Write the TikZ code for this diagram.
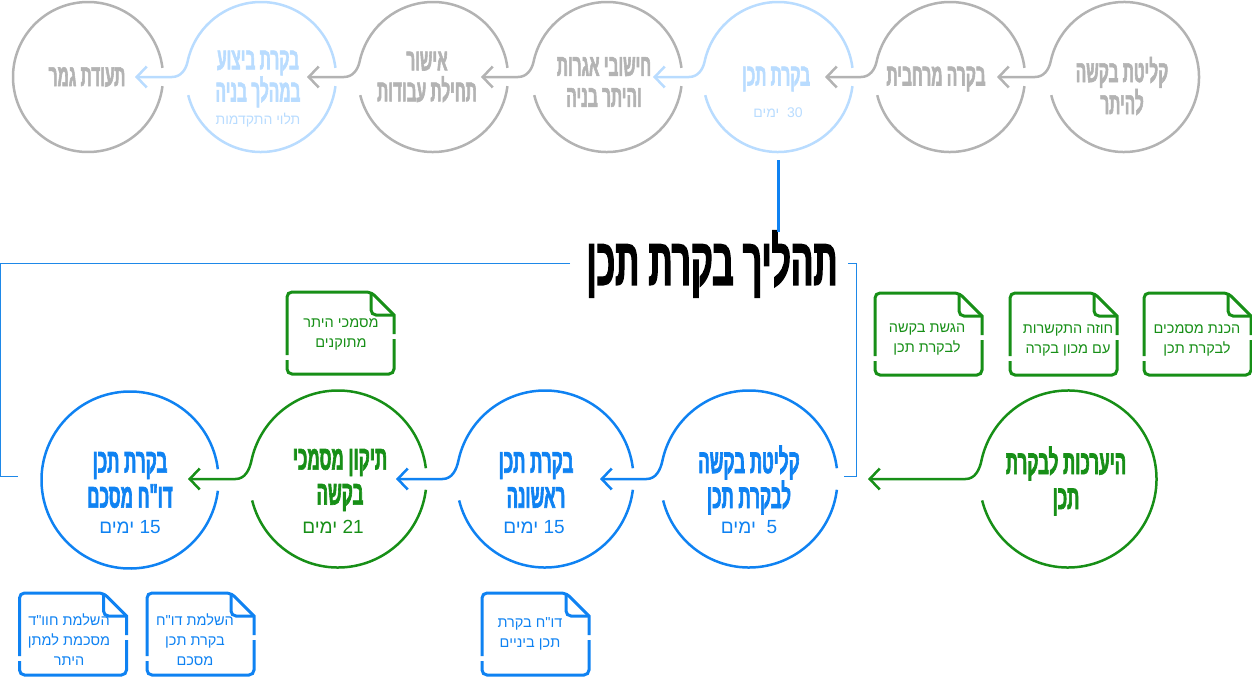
\documentclass[tikz,border=0pt]{standalone}
\usepackage{fontspec}
\usetikzlibrary{calc, arrows.meta}
\TeXXeTstate=1
\setmainfont{Liberation Sans}
\newfontfamily\headfont[Script=Hebrew,FakeStretch=.5,FakeBold=1.8]{Liberation Sans Bold}
\newfontfamily\bodyfont[Script=Hebrew]{Liberation Sans}
\definecolor{greyline}{HTML}{B3B3B3}
\definecolor{paleblue}{HTML}{B9DCFF}
\definecolor{planblue}{HTML}{0F82F2}
\definecolor{planblueline}{HTML}{1E88E8}
\definecolor{plangreen}{HTML}{178F17}
\newcommand{\he}[1]{\beginR #1\endR}
\newcommand{\days}[2]{\beginR\beginL #1\endL{} #2\endR}
\tikzset{
  ringline/.style={line width=2.5pt},
  sheetline/.style={line width=3pt,rounded corners=5pt},
  barbline/.style={line width=2.5pt,-{Straight Barb[length=10pt,width=21pt,line width=2.5pt]}},
  ringtop/.style={circle,inner sep=0,outer sep=0,minimum size=150pt},
  ringlow/.style={circle,inner sep=0,outer sep=0,minimum size=177pt},
  headtop/.style={align=center,inner sep=0,font=\headfont\fontsize{31}{31}\selectfont},
  headlow/.style={align=center,inner sep=0,font=\headfont\fontsize{34}{35}\selectfont},
  daystext/.style={inner sep=0,font=\bodyfont\fontsize{19}{20}\selectfont},
  smalldays/.style={inner sep=0,font=\bodyfont\fontsize{14}{16}\selectfont},
  sheet/.style={rectangle,inner sep=0,outer sep=0,minimum width=107pt,minimum height=82pt},
  sheettext/.style={align=center,inner sep=0,font=\bodyfont\fontsize{14.5}{20}\selectfont}
}
% ring with a gap on both sides, running out into an arrow
\newcommand{\ringout}[4]{
  \draw[ringline,#2] (#1.194) arc[start angle=194,end angle=353,radius=#3];
  \draw[barbline,#2] (#1.7) arc[start angle=7,end angle=168,radius=#3] to[out=258,in=0] ($(#1.west)+(-14,0)$) -- (#4);
}
\newcommand{\ringfirst}[4]{
  \draw[barbline,#2] (#1.194) arc[start angle=194,end angle=528,radius=#3] to[out=258,in=0] ($(#1.west)+(-14,0)$) -- (#4);
}
\newcommand{\ringlast}[3]{
  \draw[ringline,#2] (#1.7) arc[start angle=7,end angle=353,radius=#3];
}
\newcommand{\sheetlines}[2]{
  \draw[sheetline,#2] ($(#1.north east)+(0,-47)$) -- (#1.south east) -- (#1.south west) -- ($(#1.south west)+(0,14)$);
  \draw[sheetline,#2] ($(#1.south west)+(0,19)$) -- (#1.north west) -- ($(#1.north east)+(-23,0)$) [sharp corners] -- ($(#1.north east)+(0,-23)$) -- ($(#1.north east)+(0,-42)$);
  \draw[sheetline,#2] ($(#1.north east)+(-23,0)$) -- ($(#1.north east)+(-23,-23)$) -- ($(#1.north east)+(0,-23)$);
}
\begin{document}
\begin{tikzpicture}[x=1pt,y=1pt]
    \useasboundingbox (0,0) rectangle (1252,-677);
    % upper row
    \node [ringtop] (permit) at (1124,-77) {};
    \node [ringtop] (zoning) at (950,-77) {};
    \node [ringtop] (review) at (778,-77) {};
    \node [ringtop] (fees) at (607,-77) {};
    \node [ringtop] (start) at (433,-77) {};
    \node [ringtop] (site) at (261,-77) {};
    \node [ringtop] (final) at (88,-77) {};
    \coordinate (tipzoning) at (997,-77);
    \coordinate (tipreview) at (825,-77);
    \coordinate (tipfees) at (653,-77);
    \coordinate (tipstart) at (481,-77);
    \coordinate (tipsite) at (307,-77);
    \coordinate (tipfinal) at (135,-77);
    \ringfirst{permit}{greyline}{75}{tipzoning}
    \ringout{zoning}{greyline}{75}{tipreview}
    \ringout{review}{paleblue}{75}{tipfees}
    \ringout{fees}{greyline}{75}{tipstart}
    \ringout{start}{greyline}{75}{tipsite}
    \ringout{site}{paleblue}{75}{tipfinal}
    \ringlast{final}{greyline}{75}
    \node [headtop,text=greyline] (permittext) at (1122,-86) {\he{קליטת בקשה}\\\he{להיתר}};
    \node [headtop,text=greyline] (zoningtext) at (936,-79) {\he{בקרה מרחבית}};
    \node [headtop,text=paleblue] (reviewtext) at (776,-79) {\he{בקרת תכן}};
    \node [smalldays,text=paleblue] (reviewdays) at (778,-113) {\days{30}{ ימים}};
    \node [headtop,text=greyline] (feestext) at (604,-82) {\he{חישובי אגרות}\\\he{והיתר בניה}};
    \node [headtop,text=greyline] (starttext) at (427,-77) {\he{אישור}\\\he{תחילת עבודות}};
    \node [headtop,text=paleblue] (sitetext) at (258,-79) {\he{בקרת ביצוע}\\\he{במהלך בניה}};
    \node [smalldays,text=paleblue] (sitedays) at (258,-120) {\he{תלוי התקדמות}};
    \node [headtop,text=greyline] (finaltext) at (87,-77) {\he{תעודת גמר}};
    % title and frame
    \node [inner sep=0,font=\headfont\fontsize{67}{70}\selectfont] (title) at (712,-264) {\he{תהליך בקרת תכן}};
    \coordinate (ruleend) at (778,-232);
    \draw [line width=3pt,planblue,shorten <=8pt] (review.south) -- (ruleend);
    \coordinate (frameleft) at (570,-263);
    \coordinate (frameright) at (848,-263);
    \coordinate (framelow) at (18,-476);
    \coordinate (framelowr) at (844,-476);
    \draw [line width=1pt,planblueline] (frameleft) -- (0.5,-263) -- (0.5,-476) -- (framelow);
    \draw [line width=1pt,planblueline] (frameright) -- (856.5,-263) -- (856.5,-476) -- (framelowr);
    % lower row
    \node [ringlow] (prepare) at (1068,-479) {};
    \node [ringlow] (intake) at (749,-479) {};
    \node [ringlow] (first) at (545,-479) {};
    \node [ringlow] (fix) at (338,-479) {};
    \node [ringlow] (closing) at (130,-480) {};
    \coordinate (tipintake) at (868,-479);
    \coordinate (tipfirst) at (600,-479);
    \coordinate (tipfix) at (396,-479);
    \coordinate (tipclosing) at (188,-479);
    \ringfirst{prepare}{plangreen}{88.5}{tipintake}
    \ringout{intake}{planblue}{88.5}{tipfirst}
    \ringout{first}{planblue}{88.5}{tipfix}
    \ringout{fix}{plangreen}{88.5}{tipclosing}
    \ringlast{closing}{planblue}{88.5}
    \node [headlow,text=plangreen] (preparetext) at (1066,-481) {\he{היערכות לבקרת}\\\he{תכן}};
    \node [headlow,text=planblue] (intaketext) at (749,-480) {\he{קליטת בקשה}\\\he{לבקרת תכן}};
    \node [daystext,text=planblue] (intakedays) at (749,-527) {\days{5}{ ימים}};
    \node [headlow,text=planblue] (firsttext) at (536,-480) {\he{בקרת תכן}\\\he{ראשונה}};
    \node [daystext,text=planblue] (firstdays) at (534,-527) {\days{15}{ימים}};
    \node [headlow,text=plangreen] (fixtext) at (340,-480) {\he{תיקון מסמכי}\\\he{בקשה}};
    \node [daystext,text=plangreen] (fixdays) at (333,-527) {\days{21}{ימים}};
    \node [headlow,text=planblue] (closingtext) at (130,-480) {\he{בקרת תכן}\\\he{דו"ח מסכם}};
    \node [daystext,text=planblue] (closingdays) at (130,-527) {\days{15}{ימים}};
    % sheets
    \node [sheet] (docsready) at (1197.5,-334) {};
    \node [sheet] (contract) at (1063.5,-334) {};
    \node [sheet] (submit) at (928.5,-334) {};
    \node [sheet] (fixeddocs) at (340.5,-333) {};
    \node [sheet] (midreport) at (535.5,-634) {};
    \node [sheet] (endreport) at (200.5,-634) {};
    \node [sheet] (opinion) at (73,-634) {};
    \sheetlines{docsready}{plangreen}
    \sheetlines{contract}{plangreen}
    \sheetlines{submit}{plangreen}
    \sheetlines{fixeddocs}{plangreen}
    \sheetlines{midreport}{planblue}
    \sheetlines{endreport}{planblue}
    \sheetlines{opinion}{planblue}
    \node [sheettext,text=plangreen] (docsreadytext) at (1197,-340) {\he{הכנת מסמכים}\\\he{לבקרת תכן}};
    \node [sheettext,text=plangreen] (contracttext) at (1068,-340) {\he{חוזה התקשרות}\\\he{עם מכון בקרה}};
    \node [sheettext,text=plangreen] (submittext) at (927,-340) {\he{הגשת בקשה}\\\he{לבקרת תכן}};
    \node [sheettext,text=plangreen] (fixeddocstext) at (341,-334) {\he{מסמכי היתר}\\\he{מתוקנים}};
    \node [sheettext,text=planblue] (midreporttext) at (530,-634) {\he{דו"ח בקרת}\\\he{תכן ביניים}};
    \node [sheettext,text=planblue] (endreporttext) at (195,-640) {\he{השלמת דו"ח}\\\he{בקרת תכן}\\\he{מסכם}};
    \node [sheettext,text=planblue] (opiniontext) at (69,-640) {\he{השלמת חוו"ד}\\\he{מסכמת למתן}\\\he{היתר}};
\end{tikzpicture}
\end{document}
